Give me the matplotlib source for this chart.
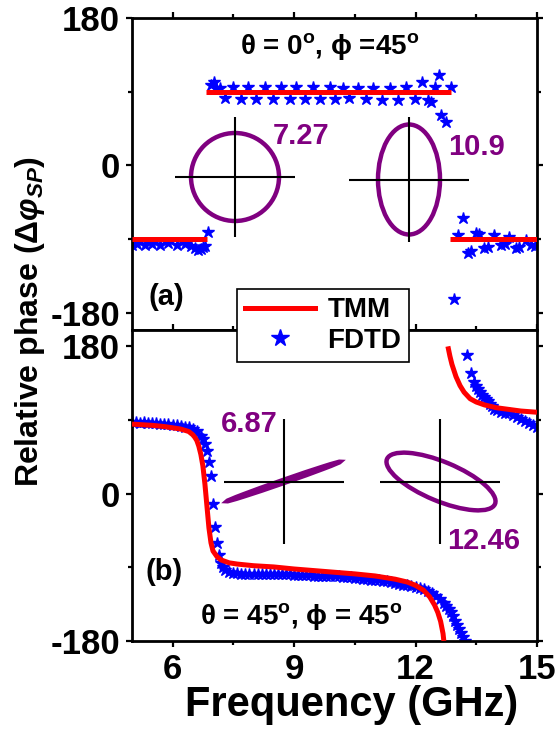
import numpy as np
import matplotlib
matplotlib.use('Agg')
import matplotlib.pyplot as plt
from matplotlib.patches import Ellipse
from matplotlib.lines import Line2D

plt.rcParams['font.family'] = ['Liberation Sans', 'DejaVu Sans']
plt.rcParams['font.weight'] = 'bold'
plt.rcParams['axes.unicode_minus'] = False
plt.rcParams['mathtext.fontset'] = 'custom'
plt.rcParams['mathtext.rm'] = 'Liberation Sans:bold'
plt.rcParams['mathtext.it'] = 'Liberation Sans:bold:italic'
plt.rcParams['mathtext.bf'] = 'Liberation Sans:bold'

nan = np.nan

# ---- panel (a): theta = 0, phi = 45 ----
freq_a_tmm = [5.0, 6.86, nan, 6.82, 12.88, nan, 12.84, 15.0]
phase_a_tmm = [-90, -90, nan, 90, 90, nan, -90, -90]

freq_a_fdtd = [5.0, 5.12, 5.32, 5.5, 5.7, 5.9, 6.1, 6.3, 6.45, 6.55, 6.63, 6.7, 6.75, 6.8, 6.88,
               6.96, 7.02, 7.08, 7.18, 7.29, 7.50, 7.70, 7.87, 8.07, 8.28, 8.48, 8.69, 8.89,
               9.06, 9.26, 9.47, 9.63, 9.88, 10.02, 10.21, 10.37, 10.58, 10.78, 10.95, 11.18,
               11.36, 11.56, 11.77, 11.98, 12.15, 12.30, 12.38, 12.47, 12.59, 12.63, 12.76,
               12.88, 12.96,
               13.04, 13.17, 13.29, 13.37, 13.50, 13.58, 13.70, 13.78, 13.95, 14.11, 14.20,
               14.32, 14.48, 14.56, 14.73, 14.85, 14.95]
phase_a_fdtd = [-97, -96, -97, -96, -97, -95, -97, -96, -98, -101, -103, -102, -100, -98, -81,
                98, 102, 94, 95, 82, 96, 81, 96, 81, 96, 81, 96, 81,
                96, 81, 96, 81, 96, 81, 95, 82, 95, 81, 95, 80,
                95, 80, 96, 81, 102, 80, 78, 96, 111, 61, 53,
                96, -163,
                -85, -64, -107, -105, -83, -84, -101, -100, -85, -97, -96,
                -87, -101, -100, -91, -97, -99]

# ---- panel (b): theta = 45, phi = 45 ----
freq_b_tmm = [5.0, 5.5, 5.8, 6.0, 6.2, 6.4, 6.5, 6.55, 6.6, 6.65, 6.7, 6.75, 6.8, 6.85, 6.9,
              6.95, 7.0, 7.1, 7.2, 7.4, 7.6, 8.0, 8.5, 9.0, 9.5, 10.0, 10.5, 11.0, 11.5, 11.8,
              12.0, 12.2, 12.35, 12.47, 12.55, 12.62, 12.66, 12.68, 12.70, nan,
              12.80, 12.85, 12.9, 13.0, 13.1, 13.2, 13.35, 13.5, 13.7, 14.0, 14.3, 14.6, 15.0]
phase_b_tmm = [85, 83.5, 82, 80.5, 79, 76, 72, 69, 65, 58, 48, 34, 12, -15, -42,
               -60, -70, -77, -81, -84.5, -86, -88, -89.5, -92, -94, -96, -98, -100.5, -104.5, -108,
               -112, -118, -126, -136, -145, -156, -166, -171, -180, nan,
               180, 168, 158, 143, 132, 124, 116, 112, 108.5, 105, 103, 101, 99.5]

freq_b_fdtd = [5.0, 5.1, 5.2, 5.3, 5.4, 5.5, 5.6, 5.7, 5.8, 5.9, 6.0, 6.1, 6.2, 6.3, 6.4, 6.5,
               6.6, 6.7, 6.75, 6.80, 6.85, 6.90, 6.95, 7.00, 7.05, 7.10, 7.15, 7.20, 7.25, 7.3,
               7.4, 7.5, 7.6, 7.7, 7.8, 7.9, 8.0, 8.1, 8.2, 8.3, 8.4, 8.5, 8.6, 8.7, 8.8, 8.9,
               9.0, 9.1, 9.2, 9.3, 9.4, 9.5, 9.6, 9.7, 9.8, 9.9, 10.0, 10.1, 10.2, 10.3, 10.4,
               10.5, 10.6, 10.7, 10.8, 10.9, 11.0, 11.1, 11.2, 11.3, 11.4, 11.5, 11.6, 11.7,
               11.8, 11.9, 12.0, 12.1, 12.2, 12.3, 12.4, 12.5, 12.6, 12.7, 12.76, 12.82, 12.87,
               12.92, 12.97, 13.02, 13.07, 13.12, 13.17, 13.22,
               13.27, 13.36, 13.45, 13.50, 13.55, 13.60, 13.65, 13.70, 13.75, 13.80, 13.85,
               13.90, 13.95, 14.0, 14.1, 14.2, 14.3, 14.4, 14.5, 14.6, 14.7, 14.8, 14.9, 15.0]
phase_b_fdtd = [87, 87, 86, 87, 86, 86, 86, 85, 85, 85, 84, 84, 83, 82, 81, 79,
                76, 71, 67, 61, 52, 39, 21, -13, -41, -60, -75, -85, -90, -93,
                -96, -97, -97, -98, -98, -98, -98, -98, -98, -98, -98, -98, -98, -98, -98, -98,
                -99, -99, -99, -99, -99, -100, -100, -100, -100, -101, -101, -101, -102, -102, -102,
                -103, -103, -104, -104, -105, -105, -106, -107, -107, -108, -109, -110, -111,
                -112, -113, -114, -115, -117, -119, -121, -125, -129, -133, -137, -141, -145,
                -150, -155, -160, -165, -170, -175, -180,
                169, 148, 137, 132, 128, 124, 121, 118, 116, 113, 110,
                107, 104, 102, 100, 99, 98, 96, 94, 91, 89, 86, 84, 82]

xticks = [6, 9, 12, 15]
yticks = [-180, 0, 180]

RED = '#ff0000'
BLUE = '#0000ff'
PURPLE = '#800080'

W, H = 556, 735
fig = plt.figure(figsize=(W / 100, H / 100), dpi=100)

box_a = (132, 18, 405, 312)
box_b = (132, 330, 405, 311)


def px_axes(box):
    x0, y0, w, h = box
    return fig.add_axes([x0 / W, 1 - (y0 + h) / H, w / W, h / H])


ax_a = px_axes(box_a)
ax_b = px_axes(box_b)

for ax, ff, pf, ft, pt in [(ax_a, freq_a_fdtd, phase_a_fdtd, freq_a_tmm, phase_a_tmm),
                           (ax_b, freq_b_fdtd, phase_b_fdtd, freq_b_tmm, phase_b_tmm)]:
    ax.plot(ff, pf, ls='none', marker='*', ms=9, color=BLUE, mec=BLUE, zorder=2)
    ax.plot(ft, pt, color=RED, lw=3.6, zorder=3, solid_capstyle='butt')
    ax.set_xlim(5, 15)
    ax.set_xticks(xticks)
    ax.set_xticks([7.5, 10.5, 13.5], minor=True)
    ax.set_yticks(yticks)
    ax.set_yticks([-90, 90], minor=True)
    ax.tick_params(which='both', direction='out', top=True, right=True, width=1.6,
                   labelsize=25, pad=4)
    ax.tick_params(which='major', length=4.5)
    ax.tick_params(which='minor', length=3)
    for s in ax.spines.values():
        s.set_linewidth(2.0)
    for lab in ax.get_xticklabels() + ax.get_yticklabels():
        lab.set_fontweight('bold')

ax_a.set_ylim(-201, 180)
ax_b.set_ylim(-180, 200)
ax_a.tick_params(labelbottom=False)
ax_b.set_xlabel('Frequency (GHz)', fontsize=30, fontweight='bold')
ax_b.xaxis.set_label_coords((352 - 132) / 405, -(705 - 641) / 311)
ax_b.xaxis.label.set_va('center')


def pol_inset(ax, box, cx, cy, hw, hh, a, b, ang, ex=0.0, ey=0.0):
    x0, y0, w, h = box
    ins = ax.inset_axes([(cx - hw - x0) / w, (y0 + h - (cy + hh)) / h, 2 * hw / w, 2 * hh / h])
    ins.set_xlim(-hw, hw)
    ins.set_ylim(-hh, hh)
    ins.axis('off')
    ins.plot([-hw, hw], [0, 0], color='k', lw=1.5, solid_capstyle='round')
    ins.plot([0, 0], [-hh, hh], color='k', lw=1.5, solid_capstyle='round')
    ins.add_patch(Ellipse((ex, ey), 2 * a, 2 * b, angle=ang, fill=False,
                          ec=PURPLE, lw=3.2, clip_on=False))
    return ins


pol_inset(ax_a, box_a, 235, 177, 60, 60, 44, 44, 0)
pol_inset(ax_a, box_a, 409, 179.5, 60, 62.5, 31, 55, 0)
pol_inset(ax_b, box_b, 283.5, 481.5, 60, 62.5, 60, 1.6, 19.2)
pol_inset(ax_b, box_b, 440, 481.5, 60, 62.5, 58.5, 19.6, -22.6, ex=1, ey=0)


def ftext(x, y, s, **kw):
    fig.text(x / W, 1 - y / H, s, ha='center', va='center', **kw)


ftext(301, 136, '7.27', fontsize=21, color=PURPLE, fontweight='bold')
ftext(476, 147, '10.9', fontsize=21, color=PURPLE, fontweight='bold')
ftext(249, 424, '6.87', fontsize=21, color=PURPLE, fontweight='bold')
ftext(484, 541, '12.46', fontsize=21, color=PURPLE, fontweight='bold')

ftext(330, 47, r'θ = 0$^\mathrm{o}$, ϕ =45$^\mathrm{o}$', fontsize=20, fontweight='bold')
ftext(301, 617, r'θ = 45$^\mathrm{o}$, ϕ = 45$^\mathrm{o}$', fontsize=20, fontweight='bold')
ftext(166, 297, '(a)', fontsize=21, fontweight='bold')
ftext(164, 572, '(b)', fontsize=21, fontweight='bold')

ftext(30, 321, r'Relative phase ($\Delta\varphi_{SP}$)', fontsize=23, fontweight='bold',
      rotation=90)

handles = [Line2D([], [], color=RED, lw=3.6),
           Line2D([], [], ls='none', marker='*', ms=13, color=BLUE)]
leg = fig.legend(handles, ['TMM', 'FDTD'], loc='upper left',
                 bbox_to_anchor=(237 / W, 1 - 289 / H), fontsize=20, frameon=True,
                 fancybox=False, edgecolor='k', framealpha=1, borderpad=0.3,
                 labelspacing=0.15, handlelength=2.5, handletextpad=0.45,
                 borderaxespad=0, numpoints=1)
leg.get_frame().set_linewidth(1.2)
for t in leg.get_texts():
    t.set_fontweight('bold')
leg.set_zorder(10)

fig.savefig('out.png', dpi=100)
